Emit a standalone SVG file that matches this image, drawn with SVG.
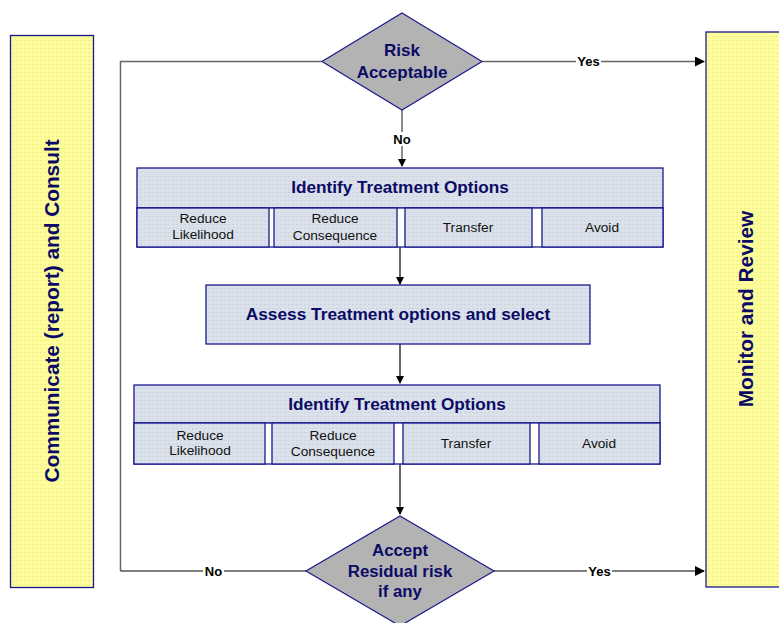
<svg xmlns="http://www.w3.org/2000/svg" width="779" height="623" viewBox="0 0 779 623">
<defs>
<pattern id="hatchB" width="4" height="4" patternUnits="userSpaceOnUse">
<rect width="4" height="4" fill="#dbe1ea"/>
<rect width="2" height="1" fill="#ccd3de"/>
</pattern>
<pattern id="hatchY" width="4" height="4" patternUnits="userSpaceOnUse">
<rect width="4" height="4" fill="#fdfd9c"/>
<rect width="2" height="1" fill="#efef88"/>
</pattern>
<marker id="arr" markerWidth="10" markerHeight="10" refX="9" refY="5" orient="auto" markerUnits="userSpaceOnUse">
<path d="M0,0 L10,5 L0,10 Z" fill="#000"/>
</marker>
<marker id="arrs" markerWidth="8" markerHeight="8" refX="7" refY="4" orient="auto" markerUnits="userSpaceOnUse">
<path d="M0,0 L8,4 L0,8 Z" fill="#000"/>
</marker>
</defs>
<style>
.side{fill:url(#hatchY);stroke:#1a1a8c;stroke-width:1.3}
.box{fill:url(#hatchB);stroke:#1a1a8c;stroke-width:1.3}
.gap{fill:#fff;stroke:#1a1a8c;stroke-width:1.3}
.dia{fill:#b3b3b3;stroke:#1a1a8c;stroke-width:1.2}
.t{font-family:"Liberation Sans",Arial,sans-serif;font-weight:bold;fill:#0b0b66;text-anchor:middle}
.s{font-family:"Liberation Sans",Arial,sans-serif;font-size:13.7px;fill:#111;text-anchor:middle}
.lbl{font-family:"Liberation Sans",Arial,sans-serif;font-size:13px;font-weight:bold;fill:#000;text-anchor:middle}
.ln{fill:none;stroke:#000;stroke-width:1.2}
.lg{fill:none;stroke:#666;stroke-width:1.5}
</style>

<g id="communicate">
<rect class="side" x="10.5" y="35.5" width="83" height="552"/>
<text class="t" font-size="20.8" transform="translate(59,311) rotate(-90)">Communicate (report) and Consult</text>
</g>
<g id="monitor">
<rect class="side" x="706" y="32" width="80" height="555"/>
<text class="t" font-size="20.8" transform="translate(753,309) rotate(-90)">Monitor and Review</text>
</g>

<g id="connectors">
<path class="lg" d="M322,61.5 H120.5 V571"/>
<path class="lg" d="M482,61.5 H704" marker-end="url(#arr)"/>
<path class="lg" d="M402,110 V166" marker-end="url(#arrs)"/>
<path class="ln" d="M400,247 V284" marker-end="url(#arrs)"/>
<path class="ln" d="M400,344 V383" marker-end="url(#arrs)"/>
<path class="ln" d="M400,464 V514" marker-end="url(#arrs)"/>
<path class="ln" d="M306,571 H120.5"/>
<path class="ln" d="M494,571 H704" marker-end="url(#arr)"/>
<rect x="576" y="55" width="25" height="13" fill="#fff"/>
<text class="lbl" x="588.5" y="66">Yes</text>
<rect x="391" y="132" width="22" height="14" fill="#fff"/>
<text class="lbl" x="402" y="144">No</text>
<rect x="203" y="565" width="21" height="13" fill="#fff"/>
<text class="lbl" x="213.5" y="576">No</text>
<rect x="587" y="565" width="25" height="13" fill="#fff"/>
<text class="lbl" x="599.5" y="576">Yes</text>
</g>

<g id="risk-acceptable">
<polygon class="dia" points="402,13 482,61.5 402,110 322,61.5"/>
<text class="t" font-size="17" x="402" y="56">Risk</text>
<text class="t" font-size="17" x="402" y="78">Acceptable</text>
</g>

<g id="identify-1">
<rect class="box" x="137" y="168" width="526" height="40"/>
<text class="t" font-size="17.2" x="400" y="193">Identify Treatment Options</text>
<rect class="gap" x="137" y="208" width="526" height="39"/>
<rect class="box" x="137" y="208" width="132" height="39"/>
<rect class="box" x="274" y="208" width="123" height="39"/>
<rect class="box" x="405" y="208" width="127" height="39"/>
<rect class="box" x="542" y="208" width="121" height="39"/>
<text class="s" x="203" y="223">Reduce</text>
<text class="s" x="203" y="239">Likelihood</text>
<text class="s" x="335" y="223">Reduce</text>
<text class="s" x="335" y="240">Consequence</text>
<text class="s" x="468" y="232">Transfer</text>
<text class="s" x="602" y="232">Avoid</text>
</g>

<g id="assess">
<rect class="box" x="206" y="285" width="384" height="59"/>
<text class="t" font-size="17.3" x="398" y="320">Assess Treatment options and select</text>
</g>

<g id="identify-2">
<rect class="box" x="134" y="385" width="526" height="38"/>
<text class="t" font-size="17.2" x="397" y="410">Identify Treatment Options</text>
<rect class="gap" x="134" y="423" width="526" height="41"/>
<rect class="box" x="134" y="423" width="131" height="41"/>
<rect class="box" x="272" y="423" width="122" height="41"/>
<rect class="box" x="403" y="423" width="127" height="41"/>
<rect class="box" x="539" y="423" width="121" height="41"/>
<text class="s" x="200" y="440">Reduce</text>
<text class="s" x="200" y="455">Likelihood</text>
<text class="s" x="333" y="440">Reduce</text>
<text class="s" x="333" y="456">Consequence</text>
<text class="s" x="466" y="448">Transfer</text>
<text class="s" x="599" y="448">Avoid</text>
</g>

<g id="accept-residual">
<polygon class="dia" points="400,516 494,571 400,626 306,571"/>
<text class="t" font-size="16.8" x="400" y="556">Accept</text>
<text class="t" font-size="16.8" x="400" y="577">Residual risk</text>
<text class="t" font-size="16.8" x="400" y="597">if any</text>
</g>
</svg>
